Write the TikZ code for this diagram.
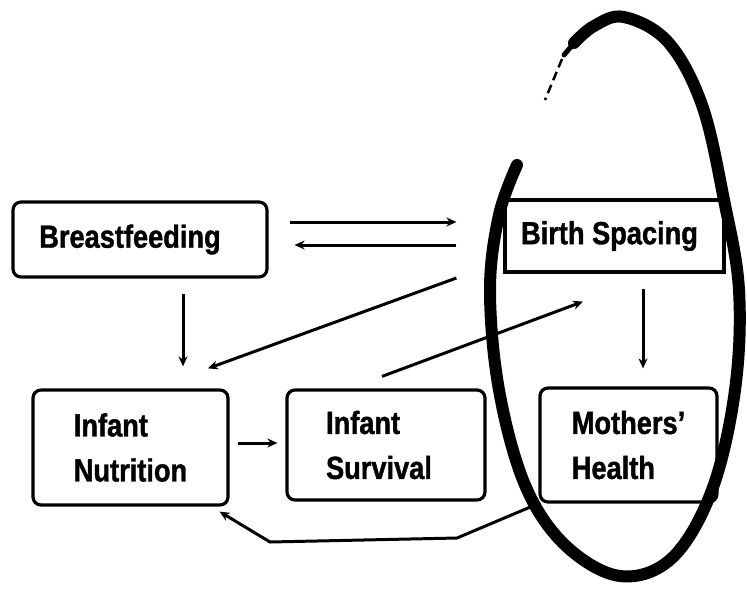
\documentclass[tikz,border=0pt]{standalone}
\usepackage{fontspec}
\setmainfont[FakeStretch=0.85, BoldFeatures={FakeBold=1.2}]{Liberation Sans}
\usetikzlibrary{arrows.meta}
\begin{document}
\begin{tikzpicture}[x=1pt,y=-1pt,
  box/.style={draw, line width=3.2pt, rounded corners=8pt, inner sep=0pt,
    font=\fontsize{32}{45}\selectfont\bfseries, align=left},
  sqbox/.style={box, rounded corners=0pt},
  arr/.style={line width=3pt, -{Stealth[length=10pt,width=9pt]}},
  loop/.style={line width=12pt, line cap=round, line join=round}]
\useasboundingbox (0,0) rectangle (747,590);
% boxes
\node[box, minimum width=254pt, minimum height=75pt] (bf) at (140,239.5) {Breastfeeding\hspace*{20pt}};
\node[sqbox, minimum width=219pt, minimum height=72pt] (bs) at (614.5,236) {Birth Spacing\hspace*{10pt}};
\node[box, minimum width=195pt, minimum height=115pt] (in) at (130.5,447.5) {Infant\\Nutrition};
\node[box, minimum width=198pt, minimum height=110pt] (is) at (386,445) {Infant\\Survival\hspace*{14pt}};
\node[box, minimum width=177pt, minimum height=114pt] (mh) at (628.5,445) {Mothers'\\Health};
% connectors
\draw[arr] ([shift={(21,-17.5)}]bf.east) -- ([shift={(-47,-14)}]bs.west);
\draw[arr] ([shift={(-47,9)}]bs.west) -- ([shift={(26,5.5)}]bf.east);
\draw[arr] ([shift={(43,15)}]bf.south) -- ([shift={(52.5,-22)}]in.north);
\draw[arr] ([shift={(-47,42)}]bs.west) -- ([shift={(77.5,-20)}]in.north);
\draw[arr] ([shift={(-4,-12)}]is.north) -- ([shift={(-31.5,28)}]bs.south);
\draw[arr] ([shift={(28.5,15)}]bs.south) -- ([shift={(14.5,-18)}]mh.north);
\draw[arr] ([shift={(8,-4.5)}]in.east) -- ([shift={(-8,-2)}]is.west);
\draw[arr, line join=round] (mh.south west) -- (457,538) -- (270,542) -- ([shift={(-10,5)}]in.south east);
% hand-drawn loop round Birth Spacing and Mothers' Health
\draw[loop] plot[smooth, tension=0.6] coordinates {(517,165) (499,215) (490,290) (499,390) (525,485) (565,545) (620,576) (672,558) (712,490) (735,390) (739,290) (724,200) (702,105) (668,42) (624,17) (594,26) (574,43)};
\draw[line width=5pt, line cap=round] (574,43) -- (564,55);
\draw[line width=2.5pt, dash pattern=on 9pt off 5pt] (562,59) -- (545,100);
\end{tikzpicture}
\end{document}
